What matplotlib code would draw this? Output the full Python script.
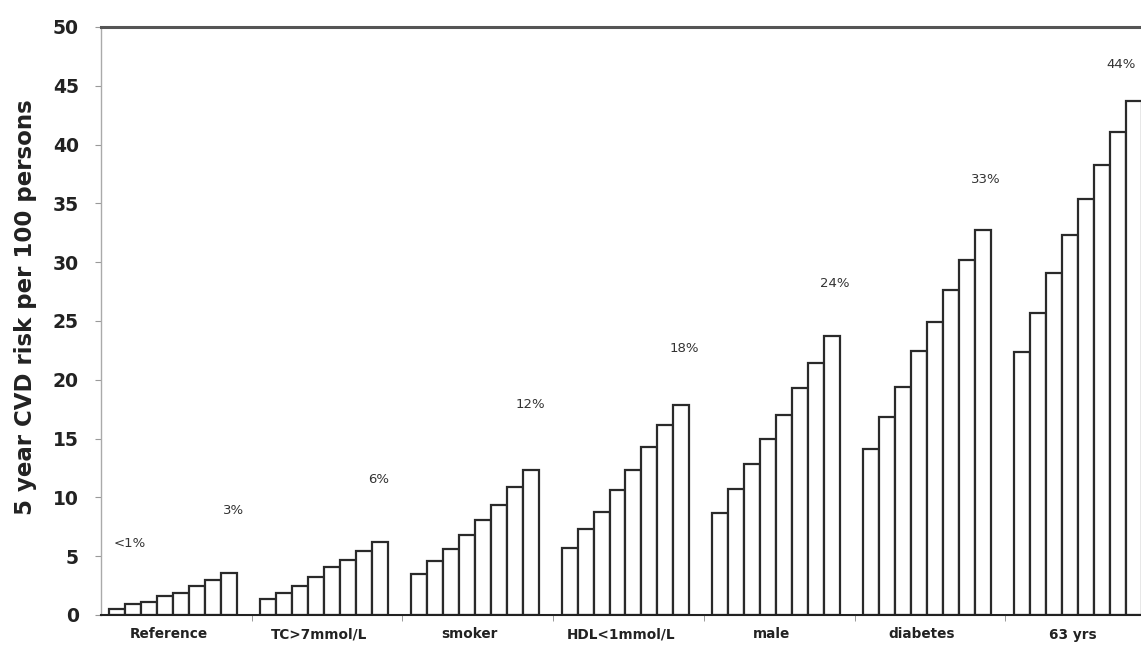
import matplotlib.pyplot as plt
import matplotlib.transforms as mtransforms
import numpy as np

groups = ["Reference", "TC>7mmol/L", "smoker", "HDL<1mmol/L", "male", "diabetes", "63 yrs"]

reference = [0.5, 0.9, 1.1, 1.6, 1.85, 2.5, 3.0, 3.55]
tc_high = [1.4, 1.9, 2.5, 3.2, 4.05, 4.7, 5.45, 6.25]
smoker = [3.45, 4.55, 5.6, 6.8, 8.1, 9.35, 10.85, 12.3]
hdl_low = [5.7, 7.3, 8.8, 10.6, 12.35, 14.25, 16.15, 17.85]
male = [8.7, 10.7, 12.8, 14.95, 17.0, 19.3, 21.45, 23.7]
diabetes = [14.1, 16.8, 19.4, 22.45, 24.95, 27.65, 30.2, 32.7]
age_63 = [22.4, 25.65, 29.1, 32.3, 35.4, 38.25, 41.1, 43.7]

series = [reference, tc_high, smoker, hdl_low, male, diabetes, age_63]

# percentage notes written above the groups
note_text = ["<1%", "3%", "6%", "12%", "18%", "24%", "33%", "44%"]
note_x = [-0.31, 0.38, 1.34, 2.35, 3.37, 4.37, 5.37, 6.27]
note_y = [6.1, 8.9, 11.5, 17.9, 22.7, 28.2, 37.0, 46.8]

fig = plt.figure(figsize=(11.41, 6.49), dpi=100)
ax = fig.add_axes([101 / 1141, 34 / 649, 1 - 101 / 1141, 588 / 649])

n = 8
w = 0.106
offsets = (np.arange(n) - (n - 1) / 2) * w - 0.02
for k, vals in enumerate(series):
    ax.bar(k + offsets, vals, width=w, color="white",
           edgecolor="#2a2a2a", linewidth=1.6, zorder=2)

for txt, x, y in zip(note_text, note_x, note_y):
    ax.text(x, y, txt, ha="center", va="center", fontsize=9.5, color="#333333")

ax.set_ylim(0, 50)
ax.set_xlim(-0.5, 6.5 - 15 / 150.7)
ax.set_yticks(np.arange(0, 51, 5))
ax.set_yticklabels([str(v) for v in range(0, 51, 5)], fontsize=13.5,
                   fontweight="bold", color="#222222")
ax.set_xticks(range(len(groups)))
ax.set_xticklabels(groups, fontsize=9.8, fontweight="bold", color="#222222")
ax.set_xticks(np.arange(0.5, 6.5, 1), minor=True)
ax.tick_params(axis="x", which="major", length=0, pad=9)
ax.tick_params(axis="x", which="minor", length=4, color="#888888")
ax.tick_params(axis="y", length=4, color="#999999", pad=12)

shift = mtransforms.ScaledTranslation(-8 / 100, 0, fig.dpi_scale_trans)
for lbl in ax.get_xticklabels():
    lbl.set_transform(lbl.get_transform() + shift)

ax.set_ylabel("5 year CVD risk per 100 persons", fontsize=16.5,
              fontweight="bold", color="#222222")
ax.yaxis.set_label_coords(-0.062, 0.524)

ax.spines["right"].set_visible(False)
ax.spines["left"].set_color("#aaaaaa")
ax.spines["left"].set_linewidth(1.0)
ax.spines["bottom"].set_color("#222222")
ax.spines["bottom"].set_linewidth(1.5)
ax.spines["top"].set_color("#555555")
ax.spines["top"].set_linewidth(2.2)

fig.savefig("out.png", dpi=100, facecolor="white")
